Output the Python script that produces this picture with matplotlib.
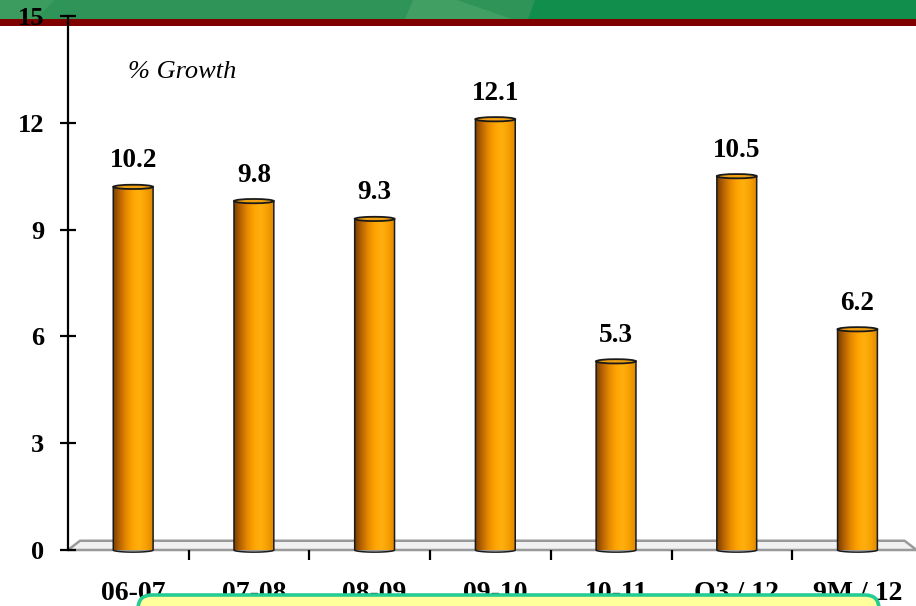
import numpy as np
import matplotlib
matplotlib.use("Agg")
import matplotlib.pyplot as plt
from matplotlib.patches import Rectangle, Polygon, Ellipse, FancyBboxPatch, PathPatch
from matplotlib.path import Path
from matplotlib.colors import LinearSegmentedColormap

# --- data -------------------------------------------------------------
categories = ["06-07", "07-08", "08-09", "09-10", "10-11", "Q3 / 12", "9M / 12"]
growth = [10.2, 9.8, 9.3, 12.1, 5.3, 10.5, 6.2]
y_ticks = [0, 3, 6, 9, 12, 15]
axis_title = "% Growth"

W, H = 916, 606
fig = plt.figure(figsize=(W / 100, H / 100), dpi=100)
fig.patch.set_facecolor("white")

serif = ["Liberation Serif", "DejaVu Serif"]

# --- background layer: slide header band --------------------------------
bg = fig.add_axes([0, 0, 1, 1], zorder=0)
bg.set_xlim(0, W)
bg.set_ylim(H, 0)
bg.axis("off")
bg.add_patch(Rectangle((0, 0), W, 19, facecolor="#118e4b", edgecolor="none"))
bg.add_patch(Polygon([(0, 0), (535, 0), (528, 19), (0, 19)], closed=True,
                     facecolor="#2f9457", edgecolor="none"))
bg.add_patch(Polygon([(413, 0), (457, 0), (512, 19), (405, 19)], closed=True,
                     facecolor="#419f63", edgecolor="none"))
bg.add_patch(Polygon([(0, 0), (55, 0), (35, 19), (0, 19)], closed=True,
                     facecolor="#3c9b5e", edgecolor="none"))
bg.add_patch(Rectangle((0, 19), W, 7, facecolor="#800000", edgecolor="none"))

# --- main chart ---------------------------------------------------------
left, right, top, bottom = 68, 913, 16, 550
ax = fig.add_axes([left / W, (H - bottom) / H, (right - left) / W, (bottom - top) / H],
                  zorder=1)
ax.patch.set_alpha(0)
ax.set_xlim(-0.5, len(categories) - 0.5)
ax.set_ylim(0, 15)

for s in ("top", "right", "bottom"):
    ax.spines[s].set_visible(False)
ax.spines["left"].set_linewidth(1.6)
ax.spines["left"].set_color("black")

ax.set_yticks(y_ticks)
ax.set_yticklabels([str(v) for v in y_ticks], fontfamily=serif,
                   fontweight="bold", fontsize=19)
ax.tick_params(axis="y", direction="inout", length=12, width=1.6, pad=11)

# tick marks between categories, labels under the bars
ax.set_xticks(np.arange(len(categories)) + 0.04)
ax.set_xticklabels(categories, fontfamily=serif, fontweight="bold", fontsize=20)
ax.tick_params(axis="x", which="major", length=0, pad=22)
ax.set_xticks(np.arange(len(categories) - 1) + 0.5, minor=True)
ax.tick_params(axis="x", which="minor", direction="out", length=7.5, width=1.6)

# 3-D floor
depth_y, depth_x = 0.26, 0.1
ax.add_patch(Polygon([(-0.5, 0), (6.5 + 0.03, 0), (6.5 - depth_x + 0.03, depth_y),
                      (-0.5 + depth_x, depth_y)], closed=True,
                     facecolor="#f1f1f1", edgecolor="#9a9a9a", lw=1.8,
                     clip_on=False, zorder=1))

# cylinder bars
cyl = LinearSegmentedColormap.from_list(
    "cyl", ["#7a4000", "#b86400", "#e68a00", "#ffa400", "#ffb010", "#f7a000", "#de8800"])
grad = np.linspace(0, 1, 256).reshape(1, -1)
bw, eh = 0.33, 0.12
for i, v in enumerate(growth):
    xc = i + 0.04
    x0, x1 = xc - bw / 2, xc + bw / 2
    t = np.linspace(np.pi, 2 * np.pi, 40)
    arc = np.column_stack([xc + bw / 2 * np.cos(t), eh / 2 * np.sin(t)])
    verts = np.vstack([[(x0, v)], [(x0, 0)], arc, [(x1, 0)], [(x1, v)], [(x0, v)]])
    body = Path(verts, closed=True)
    patch = PathPatch(body, facecolor="none", edgecolor="#1a1a1a", lw=1.1, zorder=4,
                      clip_on=False)
    ax.add_patch(patch)
    im = ax.imshow(grad, cmap=cyl, aspect="auto", extent=[x0, x1, -eh, v],
                   zorder=3, interpolation="bicubic")
    im.set_clip_path(patch)
    ax.add_patch(Ellipse((xc, v), bw, eh, facecolor="#f0a010", edgecolor="#1a1a1a",
                         lw=1.3, zorder=5))
    ax.annotate(f"{v:.1f}", (xc, v), xytext=(0, 14), textcoords="offset points",
                ha="center", va="baseline", fontfamily=serif, fontweight="bold",
                fontsize=19.5, zorder=6)

ax.text(0.071, 0.895, axis_title, transform=ax.transAxes, fontfamily=serif,
        fontstyle="italic", fontsize=19, ha="left", va="center")

# --- foreground: note box overlapping the category labels ----------------
fg = fig.add_axes([0, 0, 1, 1], zorder=2)
fg.set_xlim(0, W)
fg.set_ylim(H, 0)
fg.axis("off")
fg.patch.set_alpha(0)
fg.add_patch(FancyBboxPatch((138, 595), 741, 60,
                            boxstyle="round,pad=0,rounding_size=14",
                            facecolor="#ffff9c", edgecolor="#25cc93", lw=2.6))

fig.savefig("out.png", dpi=100)
